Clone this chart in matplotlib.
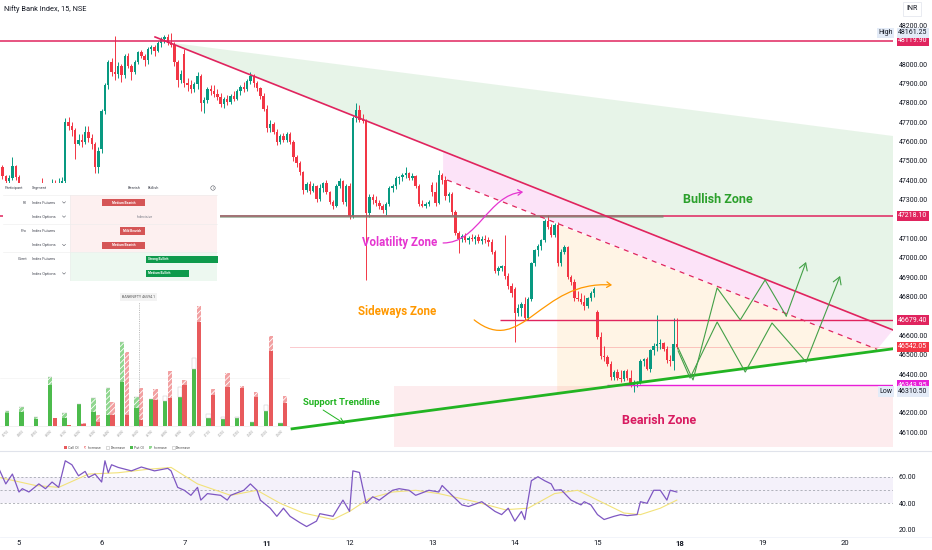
import matplotlib
matplotlib.use("Agg")
import matplotlib.pyplot as plt
from matplotlib.patches import Polygon, Rectangle, Circle, FancyArrowPatch, Patch
from matplotlib.path import Path
from matplotlib.lines import Line2D

plt.rcParams['font.family'] = ['Roboto', 'DejaVu Sans']
plt.rcParams['hatch.linewidth'] = 0.6

W, H = 932, 550

# ---------------- 15 min candles (first bar is 6 bars before the 5th) ----------------
first_bar = -6
opens = [
    47450, 47470, 47420, 47395, 47410, 47475,
    47415, 47350, 47320, 47360, 47340, 47300, 47330, 47370, 47350, 47365, 47340, 47380, 47370,
    47385, 47395, 47700, 47680, 47660, 47590, 47610, 47600, 47650, 47620, 47590, 47470,
    47560, 47760, 47890, 48010, 47960, 47950, 47990, 47945, 48040, 47990, 47960, 48010, 48060,
    48040, 48020, 48080, 48090, 48070, 48110, 48130, 48140, 48110, 48100, 48010, 47920,
    48050, 47900, 47890, 47870, 47895, 47940, 47800, 47815, 47870, 47860, 47845, 47830, 47795,
    47820, 47805, 47835, 47820, 47860, 47880, 47870, 47915, 47940, 47900, 47875, 47835,
    47770, 47670, 47690, 47650, 47600, 47630, 47610, 47640, 47600, 47520, 47490, 47445, 47350,
    47380, 47345, 47370, 47305, 47360, 47385, 47340, 47290, 47270, 47370, 47395, 47290,
    47370, 47215, 47722, 47765, 47712, 47705, 47232, 47315, 47300, 47285, 47270, 47245, 47280,
    47360, 47370, 47410, 47415, 47430, 47440, 47410, 47425, 47370, 47280, 47270, 47280,
    47375, 47340, 47285, 47430, 47400, 47320, 47330, 47235, 47130, 47095, 47115, 47090, 47105,
    47095, 47110, 47085, 47100, 47090, 47080, 47030, 46930, 46950, 46960, 46905, 46855,
    46840, 46716, 46740, 46760, 46690, 46790, 46975, 47040, 47060, 47090, 47190, 47160, 47120,
    47170, 46975, 47030, 47055, 46902, 46875, 46795, 46790, 46770, 46750, 46795, 46820,
    46720, 46590, 46495, 46490, 46455, 46385, 46410, 46380, 46375, 46415, 46380, 46345, 46350,
    46360, 46470, 46480, 46425, 46525, 46545, 46555, 46560, 46530, 46475, 46470, 46555,
]
highs = [
    47490, 47480, 47430, 47430, 47520, 47480,
    47430, 47370, 47380, 47375, 47350, 47345, 47380, 47413, 47380, 47370, 47405, 47400, 47410,
    47415, 47720, 47725, 47700, 47670, 47640, 47640, 47680, 47680, 47640, 47600, 47570,
    47770, 47900, 48020, 48030, 48145, 48010, 48000, 48050, 48055, 48000, 48020, 48070, 48075,
    48050, 48090, 48100, 48100, 48120, 48140, 48150, 48155, 48161.25, 48115, 48020, 47970,
    48080, 47930, 47920, 47910, 47960, 47950, 47830, 47880, 47890, 47890, 47870, 47850, 47830,
    47840, 47845, 47860, 47870, 47890, 47910, 47925, 47960, 47950, 47915, 47880, 47850,
    47790, 47710, 47700, 47665, 47640, 47645, 47650, 47650, 47610, 47530, 47500, 47450, 47390,
    47395, 47385, 47375, 47380, 47390, 47400, 47345, 47300, 47380, 47410, 47400, 47380,
    47385, 47730, 47800, 47790, 47740, 47715, 47330, 47330, 47320, 47300, 47280, 47290, 47370,
    47380, 47420, 47425, 47440, 47470, 47445, 47440, 47430, 47380, 47300, 47290, 47300,
    47390, 47390, 47454, 47440, 47420, 47340, 47340, 47245, 47140, 47125, 47130, 47115, 47125,
    47120, 47125, 47115, 47120, 47110, 47095, 47040, 46960, 46965, 47118, 46920, 46870,
    46850, 46760, 46770, 46800, 46800, 46980, 47045, 47070, 47100, 47200, 47222, 47175, 47180,
    47185, 47045, 47065, 47062, 46910, 46890, 46830, 46820, 46810, 46800, 46830, 46850,
    46730, 46615, 46545, 46500, 46470, 46420, 46425, 46420, 46420, 46425, 46420, 46370, 46365,
    46480, 46485, 46490, 46530, 46560, 46706, 46580, 46565, 46545, 46500, 46690, 46690,
]
lows = [
    47430, 47405, 47380, 47385, 47400, 47400,
    47330, 47290, 47300, 47320, 47270, 47290, 47320, 47330, 47340, 47320, 47330, 47350, 47360,
    47370, 47385, 47660, 47630, 47510, 47580, 47570, 47590, 47600, 47560, 47440, 47440,
    47540, 47740, 47870, 47940, 47920, 47930, 47910, 47930, 47980, 47920, 47950, 48000, 48030,
    47990, 48000, 48050, 48040, 48060, 48090, 48110, 48100, 48090, 47990, 47880, 47900,
    47880, 47860, 47850, 47855, 47870, 47760, 47750, 47800, 47840, 47830, 47815, 47780, 47775,
    47790, 47795, 47810, 47815, 47840, 47855, 47860, 47895, 47880, 47860, 47820, 47760,
    47650, 47650, 47640, 47580, 47590, 47600, 47600, 47590, 47500, 47470, 47430, 47330, 47340,
    47330, 47340, 47290, 47295, 47340, 47330, 47280, 47250, 47260, 47360, 47280, 47270,
    47200, 47205, 47700, 47700, 47695, 46886, 47210, 47280, 47270, 47250, 47230, 47220, 47270,
    47340, 47355, 47380, 47395, 47410, 47400, 47400, 47360, 47270, 47260, 47255, 47270,
    47320, 47270, 47280, 47380, 47300, 47290, 47220, 47120, 47025, 47080, 47080, 47070, 47085,
    47070, 47075, 47070, 47075, 47060, 47020, 46920, 46910, 46930, 46890, 46840, 46800,
    46566, 46700, 46700, 46680, 46680, 46780, 46960, 47010, 47040, 47080, 47150, 47110, 47110,
    46960, 46960, 47020, 46890, 46860, 46780, 46780, 46760, 46730, 46740, 46780, 46800,
    46580, 46480, 46470, 46440, 46370, 46370, 46370, 46360, 46365, 46370, 46335, 46310.5, 46335,
    46350, 46440, 46420, 46410, 46500, 46520, 46530, 46520, 46460, 46440, 46420, 46530,
]
closes = [
    47470, 47420, 47395, 47410, 47475, 47415,
    47350, 47320, 47360, 47340, 47300, 47330, 47370, 47350, 47365, 47340, 47380, 47370, 47385,
    47395, 47700, 47680, 47660, 47590, 47610, 47600, 47650, 47620, 47590, 47470, 47550,
    47760, 47890, 48010, 47960, 47950, 47990, 47945, 48040, 47990, 47960, 48010, 48060, 48040,
    48020, 48080, 48090, 48070, 48110, 48130, 48140, 48110, 48100, 48010, 47920, 47950,
    47900, 47890, 47870, 47895, 47940, 47800, 47815, 47870, 47860, 47845, 47830, 47795, 47820,
    47805, 47835, 47820, 47860, 47880, 47870, 47915, 47940, 47900, 47875, 47835, 47770,
    47670, 47690, 47650, 47600, 47630, 47610, 47640, 47600, 47520, 47490, 47445, 47350, 47380,
    47345, 47370, 47305, 47360, 47385, 47340, 47290, 47270, 47370, 47395, 47290, 47370,
    47215, 47722, 47765, 47712, 47705, 47232, 47315, 47300, 47285, 47270, 47245, 47280, 47360,
    47370, 47410, 47415, 47430, 47440, 47410, 47425, 47370, 47280, 47270, 47280, 47290,
    47340, 47285, 47430, 47400, 47320, 47330, 47235, 47130, 47095, 47115, 47090, 47105, 47095,
    47110, 47085, 47100, 47090, 47080, 47030, 46930, 46950, 46960, 46905, 46855, 46820,
    46716, 46740, 46760, 46690, 46790, 46975, 47040, 47060, 47090, 47190, 47160, 47120, 47170,
    46975, 47030, 47055, 46902, 46875, 46795, 46790, 46770, 46750, 46795, 46820, 46840,
    46590, 46495, 46490, 46455, 46385, 46410, 46380, 46375, 46415, 46380, 46345, 46350, 46360,
    46470, 46480, 46425, 46525, 46545, 46555, 46560, 46530, 46475, 46470, 46555, 46542.05,
]

day_ticks = [0, 25, 50, 75, 100, 125, 150, 175, 200, 225, 250]
day_labels = ['5', '6', '7', '11', '12', '13', '14', '15', '18', '19', '20']
bold_days = ['11', '18']

# price scale levels (ticks hidden under a tag are left out)
price_ticks = [46100, 46200, 46400, 46500, 46600, 46800, 46900, 47000, 47100,
               47300, 47400, 47500, 47600, 47700, 47800, 47900, 48000, 48200]
prev_high_level = 48119.90
resistance_level = 47218.10
range_top_level = 46679.40
last_price = 46542.05
support_level = 46343.95
session_high = 48161.25
session_low = 46310.50

# ---------------- RSI pane ----------------
rsi_bars = [-6, -4, -2, 0, 1, 3, 6, 8, 10, 12,
            14, 16, 18, 20, 21, 23, 25, 26, 27, 28,
            30, 34, 37, 41, 45, 46, 48, 50, 52, 54,
            55, 57, 61, 63, 64, 68, 70, 72, 73, 76,
            78, 80, 82, 85, 87, 90, 91, 95, 98, 100,
            101, 103, 105, 107, 109, 113, 115, 118, 120, 124,
            127, 128, 131, 134, 136, 140, 144, 146, 148, 150,
            152, 153, 155, 157, 159, 161, 162, 164, 167, 170,
            171, 173, 175, 177, 180, 182, 184, 187, 188, 190,
            192, 194, 196, 197, 199]
rsi_vals = [65.6, 54.6, 62, 48.5, 51, 48.5, 54.6, 51, 56, 52,
            72, 69, 60.7, 64, 59.5, 62, 56, 72, 63, 69,
            67, 64.4, 67.3, 64.4, 66.3, 64.4, 52, 49.8, 46, 52,
            42.4, 47.3, 46, 42.4, 46, 49.8, 54.6, 49.8, 42.4, 36.3,
            30.2, 36.3, 30.2, 25.4, 22.5, 26.6, 32.2, 30.2, 42.4, 33.9,
            64.4, 63.2, 40, 44.9, 42.4, 49.8, 51, 49.8, 46, 49.8,
            48.5, 53.4, 46, 38.8, 37.6, 41.2, 33.9, 31.5, 36.3, 26.6,
            33.9, 27.8, 57, 60, 57, 54.6, 49.8, 50.2, 42.4, 38.8,
            41.2, 38.8, 31.5, 27.8, 30.2, 31.5, 30.7, 31.5, 41.2, 40,
            49.8, 49.8, 42.4, 49.8, 48.5]
rsi_ma_bars = [-6, 5, 12, 21, 30, 39, 46, 54, 64, 72, 79, 86, 95, 100,
               106, 113, 120, 127, 138, 147, 154, 162, 169, 176, 183, 188, 194, 199]
rsi_ma_vals = [59.5, 53.4, 52, 62, 63, 65.6, 67, 54.6, 46, 49.8, 40, 32.7, 27.8, 33.9,
               43.7, 48.5, 49.8, 47.3, 41.2, 35.2, 36.3, 47.3, 49.8, 41.2, 32.7, 31.5, 36.3, 42.4]
rsi_ticks = [20, 40, 60]

# ---------------- option OI inset ----------------
strikes = [45700, 45800, 45900, 46000, 46100, 46200, 46300, 46400, 46500, 46600,
           46700, 46800, 46900, 47000, 47100, 47200, 47300, 47400, 47500, 47600]
put_oi = [3.8, 4.3, 2.0, 12.3, 2.5, 6.6, 4.3, 3.3, 13.3, 5.3,
          8.0, 7.6, 8.8, 17.1, 2.5, 2.0, 2.3, 1.3, 4.6, 0.8]
put_increase = [0.8, 1.3, 0.8, 2.3, 1.3, 0, 4.0, 8.0, 11.8, 3.3,
                0, 0, 0, 0, 0, 0, 0, 0, 0, 0]
put_decrease = [0, 0, 0, 0, 0, 0, 0, 0, 0, 0,
                0, 1.4, 2.8, 3.2, 1.1, 0.6, 0.5, 0, 1.7, 0]
call_oi = [0, 0, 0, 2.3, 0.3, 0.6, 1.3, 3.3, 3.3, 1.8,
           7.8, 8.3, 12.3, 31.3, 9.3, 11.8, 11.3, 8.8, 22.5, 6.8]
call_increase = [0, 0, 0, 0, 0, 0.4, 2.0, 4.0, 19.0, 9.5,
                 3.2, 8.2, 1.5, 4.7, 1.7, 4.0, 0.7, 1.3, 4.5, 2.2]
spot_label = 'BANKNIFTY 46594.1'
spot_strike_pos = 9

# ---------------- participant sentiment table ----------------
participants = ['FII', 'Pro', 'Client']
segments = ['Index Futures', 'Index Options', 'Index Futures', 'Index Options',
            'Index Futures', 'Index Options']
has_dropdown = [True, True, False, True, False, True]
sentiments = ['Medium Bearish', 'Indecisive', 'Mild Bearish', 'Medium Bearish',
              'Strong Bullish', 'Medium Bullish']
strength = [-3, 0, -1.75, -3, 5, 3]

UP = '#089981'
DOWN = '#f23645'
CRIMSON = '#e0245e'
MAGENTA = '#e81ed8'
GREEN_LINE = '#22b422'

fig = plt.figure(figsize=(W / 100, H / 100), dpi=100)


def px_axes(x0, y0, x1, y1):
    # axes placed by pixel box (top-left origin)
    return fig.add_axes([x0 / W, 1 - y1 / H, (x1 - x0) / W, (y1 - y0) / H])


XLIM = (-5.75, 264.4)


def price_tag(ax, price, text, fc, tc='white'):
    ax.text(1.0057, price, text, transform=ax.get_yaxis_transform(), ha='left', va='center',
            fontsize=5, color=tc, zorder=10, clip_on=False,
            bbox=dict(boxstyle='square,pad=0.22', fc=fc, ec='none'))


def draw_main():
    ax = px_axes(0, 0, 893, 450)
    ax.set_xlim(*XLIM)
    ax.set_ylim(46008.7, 48330.7)
    for s in ax.spines.values():
        s.set_visible(False)
    ax.tick_params(axis='x', bottom=False, labelbottom=False)
    ax.yaxis.tick_right()
    ax.set_yticks(price_ticks)
    ax.set_yticklabels([f'{p:.2f}' for p in price_ticks])
    ax.tick_params(axis='y', length=0, pad=4, labelsize=5, labelcolor='#131722')

    # zones
    ax.add_patch(Polygon([(46.6, 48109), (264.4, 47629), (264.4, 46628), (46.6, 48104)],
                         closed=True, fc='#4caf50', alpha=0.13, ec='none', zorder=1))
    ax.add_patch(Polygon([(128.3, 47552), (264.4, 46628), (259.6, 46528), (128.3, 47412)],
                         closed=True, fc='#e91ec8', alpha=0.12, ec='none', zorder=1))
    ax.add_patch(Polygon([(162.8, 47175), (259.6, 46528), (162.8, 46300)],
                         closed=True, fc='#ff9800', alpha=0.10, ec='none', zorder=1))
    ax.add_patch(Rectangle((113.5, 46025), 151, 315, fc=DOWN, alpha=0.09, ec='none', zorder=1))

    # candles
    idx = list(range(first_bar, first_bar + len(closes)))
    cols = [UP if c >= o else DOWN for o, c in zip(opens, closes)]
    bottoms = [min(o, c) for o, c in zip(opens, closes)]
    heights = [max(abs(c - o), 2.0) for o, c in zip(opens, closes)]
    ax.vlines(idx, lows, highs, colors=cols, lw=0.7, zorder=3)
    ax.bar(idx, heights, bottom=bottoms, width=0.72, color=cols, lw=0, zorder=3)

    # horizontal levels
    ax.axhline(prev_high_level, color=CRIMSON, lw=1.1, zorder=4)
    ax.axhline(resistance_level, color=CRIMSON, lw=1.1, zorder=4)
    ax.hlines(resistance_level, 57.8, 194.9, color='#6d8c6d', lw=2.0, alpha=0.6, zorder=4)
    ax.hlines(range_top_level, 145.5, XLIM[1], color=CRIMSON, lw=1.0, zorder=4)
    ax.hlines(support_level, 177.9, XLIM[1], color=MAGENTA, lw=1.0, zorder=4)
    ax.axhline(last_price, color=DOWN, lw=0.6, alpha=0.3, zorder=2)

    # trend lines
    ax.plot([41.15, 264.4], [48140, 46628], color=CRIMSON, lw=1.2, zorder=4)
    ax.plot([129.5, 259.6], [47402, 46528], color=CRIMSON, lw=0.9, ls=(0, (4, 4)), zorder=4)
    ax.plot([82.6, 264.4], [46118, 46531], color=GREEN_LINE, lw=2.0, zorder=4)

    # projected zigzags
    zz_style = dict(color='#43a047', lw=0.8, zorder=5)
    up_i = [199.4, 203.9, 211.2, 218.2, 225.7, 232.1, 238.1]
    up_p = [46535, 46370, 46845, 46680, 46886, 46700, 46979]
    lo_i = [199.4, 203.0, 211.2, 219.7, 227.8, 238.1, 248.4]
    lo_p = [46520, 46380, 46669, 46411, 46664, 46463, 46907]
    for xs, ys in ((up_i, up_p), (lo_i, lo_p)):
        ax.plot(xs[:-1], ys[:-1], **zz_style)
        ax.annotate('', xy=(xs[-1], ys[-1]), xytext=(xs[-2], ys[-2]),
                    arrowprops=dict(arrowstyle='->,head_length=0.5,head_width=0.3',
                                    color='#43a047', lw=0.8, shrinkA=0, shrinkB=0), zorder=5)

    # curved arrows
    vol = Path([(128.3, 47077), (138.9, 47077), (141.9, 47325), (152.5, 47340)],
               [Path.MOVETO, Path.CURVE4, Path.CURVE4, Path.CURVE4])
    ax.add_patch(FancyArrowPatch(path=vol, arrowstyle='->,head_length=3,head_width=2',
                                 color='#e535d0', lw=0.9, zorder=5))
    side = Path([(137.7, 46680), (152.2, 46484), (157.6, 46886), (179.4, 46860)],
                [Path.MOVETO, Path.CURVE4, Path.CURVE4, Path.CURVE4])
    ax.add_patch(FancyArrowPatch(path=side, arrowstyle='->,head_length=3,head_width=2',
                                 color='#ff9800', lw=0.9, zorder=5))
    ax.annotate('', xy=(98.6, 46143), xytext=(92.0, 46215),
                arrowprops=dict(arrowstyle='->,head_length=0.4,head_width=0.2',
                                color=GREEN_LINE, lw=0.7, shrinkA=0, shrinkB=0), zorder=5)

    # zone labels
    lab = dict(ha='center', va='center', fontweight='bold', zorder=6)
    ax.text(211.5, 47299, 'Bullish Zone', color='#2ca02c', fontsize=9, **lab)
    ax.text(115, 47077, 'Volatility Zone', color='#e535d0', fontsize=8.3, **lab)
    ax.text(114.4, 46721, 'Sideways Zone', color='#ff9800', fontsize=8.3, **lab)
    ax.text(97.4, 46256, 'Support Trendline', color=GREEN_LINE, fontsize=6.8, **lab)
    ax.text(193.6, 46163, 'Bearish Zone', color='#d81b60', fontsize=9, **lab)

    # price scale tags
    price_tag(ax, prev_high_level, f'{prev_high_level:.2f}', CRIMSON)
    price_tag(ax, resistance_level, f'{resistance_level:.2f}', CRIMSON)
    price_tag(ax, range_top_level, f'{range_top_level:.2f}', CRIMSON)
    price_tag(ax, last_price, f'{last_price:.2f}', DOWN)
    price_tag(ax, support_level, f'{support_level:.2f}', MAGENTA)
    price_tag(ax, session_high, f'{session_high:.2f}', '#e3ebf7', '#131722')
    price_tag(ax, session_low, f'{session_low:.2f}', '#e3ebf7', '#131722')
    for p, t in ((session_high, 'High'), (session_low, 'Low')):
        ax.text(0.9997, p, t, transform=ax.get_yaxis_transform(), ha='right', va='center',
                fontsize=5, color='#131722', zorder=10, clip_on=False,
                bbox=dict(boxstyle='square,pad=0.22', fc='#e3ebf7', ec='none'))
    return ax


def draw_rsi():
    r = px_axes(0, 452, 893, 536)
    r.set_xlim(*XLIM)
    r.set_ylim(15.4, 78.6)
    for s in r.spines.values():
        s.set_visible(False)
    r.axhspan(40, 60, color='#7e57c2', alpha=0.08, lw=0)
    for lvl in (60, 50, 40):
        r.axhline(lvl, color='#9598a1', lw=0.5, ls=(0, (3, 3)))
    r.plot(rsi_ma_bars, rsi_ma_vals, color='#f2e27a', lw=0.8)
    r.plot(rsi_bars, rsi_vals, color='#7e57c2', lw=0.9)
    r.yaxis.tick_right()
    r.set_yticks(rsi_ticks)
    r.set_yticklabels([f'{v:.2f}' for v in rsi_ticks])
    r.tick_params(axis='y', length=0, pad=4, labelsize=5, labelcolor='#131722')
    r.set_xticks(day_ticks)
    r.set_xticklabels(day_labels)
    r.tick_params(axis='x', length=0, pad=3, labelsize=5.5, labelcolor='#131722')
    for t in r.get_xticklabels():
        if t.get_text() in bold_days:
            t.set_fontweight('bold')


def draw_table():
    t = px_axes(3, 183, 220, 283)
    t.set_xlim(3, 220)
    t.set_ylim(283, 183)
    t.axis('off')
    t.add_patch(Rectangle((3, 183), 217, 100, fc='white', ec='none', zorder=0))
    small = dict(fontsize=2.8, color='#434651', va='center')
    t.text(5, 188, 'Participant', **small)
    t.text(32, 188, 'Segment', **small)
    t.text(141, 188, 'Bearish', ha='right', **small)
    t.text(148, 188, 'Bullish', ha='left', **small)
    t.add_patch(Circle((213, 188), 2.2, fill=False, ec='#434651', lw=0.35))
    t.text(213, 188.2, 'i', ha='center', fontsize=2.3, color='#434651', va='center')

    group_fc = ['#fdf0f0', '#fdf0f0', '#edf8f0']
    for g in range(3):
        t.add_patch(Rectangle((70, 195 + 28.5 * g), 147, 28.5, fc=group_fc[g], ec='none'))
        t.plot([3, 217], [195 + 28.5 * g, 195 + 28.5 * g], color='#ececec', lw=0.4)
    t.plot([70, 70], [195, 280], color='#ececec', lw=0.4)

    unit = 14.3
    for k in range(6):
        y = 202.5 + 14.2 * k
        if k % 2 == 0:
            t.text(27, y, participants[k // 2], ha='right', **small)
        t.text(32, y, segments[k], **small)
        if has_dropdown[k]:
            t.plot([62.5, 64, 65.5], [y - 0.8, y + 0.7, y - 0.8], color='#434651', lw=0.35)
        s = strength[k]
        if s < 0:
            t.add_patch(Rectangle((145 + s * unit, y - 3.6), -s * unit, 7.2, fc='#d55556', ec='none'))
            t.text(145 + s * unit / 2, y, sentiments[k], ha='center', va='center',
                   fontsize=2.3, color='white', fontweight='bold')
        elif s > 0:
            t.add_patch(Rectangle((146, y - 3.6), s * unit, 7.2, fc='#0e9a4c', ec='none'))
            t.text(148, y, sentiments[k], ha='left', va='center',
                   fontsize=2.3, color='white', fontweight='bold')
        else:
            t.text(145, y, sentiments[k], ha='center', va='center', fontsize=2.6, color='#787b86')


def draw_oi():
    o = px_axes(0, 290, 290, 450)
    o.set_xlim(-0.646, 19.5)
    o.set_ylim(-7.2, 40.8)
    o.set_facecolor('white')
    for s in o.spines.values():
        s.set_visible(False)
    o.set_xticks([])
    o.set_yticks([])
    o.axhline(14.4, color='#efefef', lw=0.4, zorder=0)
    o.axhline(0, color='#e6e6e6', lw=0.4, zorder=0)

    g = list(range(len(strikes)))
    gp = [v - 0.16 for v in g]
    gc = [v + 0.16 for v in g]
    green, red = '#4cbb4c', '#e85a5c'
    o.bar(gp, put_oi, width=0.3, color=green, lw=0, zorder=2)
    o.bar(gp, put_increase, bottom=put_oi, width=0.3, color='#8fd68f', edgecolor='white',
          hatch='//////', lw=0, zorder=2)
    tops = [a + b for a, b in zip(put_oi, put_increase)]
    o.bar(gp, put_decrease, bottom=tops, width=0.3, color='white', edgecolor='#c8c8c8',
          lw=0.35, zorder=2)
    o.bar(gc, call_oi, width=0.3, color=red, lw=0, zorder=2)
    o.bar(gc, call_increase, bottom=call_oi, width=0.3, color='#f2a0a1', edgecolor='white',
          hatch='//////', lw=0, zorder=2)

    for x, s in zip(g, strikes):
        o.text(x + 0.1, -0.9, str(s), rotation=45, ha='right', va='top', fontsize=2.2,
               color='#9a9a9a')
    o.plot([spot_strike_pos, spot_strike_pos], [0, 37.3], color='#8a8a8a', lw=0.4,
           ls=(0, (2, 2)), zorder=3)
    o.text(spot_strike_pos, 38.7, spot_label, ha='center', va='center', fontsize=2.6,
           color='#555555', bbox=dict(boxstyle='square,pad=0.5', fc='#f3f3f3', ec='none'))

    handles = [Patch(fc=red, ec='none'),
               Patch(fc='#f2a0a1', ec='white', hatch='//////', lw=0),
               Patch(fc='white', ec='#bbbbbb', lw=0.4),
               Patch(fc=green, ec='none'),
               Patch(fc='#8fd68f', ec='white', hatch='//////', lw=0),
               Patch(fc='white', ec='#bbbbbb', lw=0.4)]
    names = ['Call OI', 'Increase', 'Decrease', 'Put OI', 'Increase', 'Decrease']
    o.legend(handles, names, loc='lower center', bbox_to_anchor=(0.44, -0.02), ncol=6,
             fontsize=2.6, frameon=False, handlelength=0.7, handleheight=0.7,
             handletextpad=0.4, columnspacing=1.4, labelcolor='#555555')


ax = draw_main()
draw_rsi()
draw_table()
draw_oi()

# header, currency box and pane separators
fig.text(4 / W, 1 - 9 / H, 'Nifty Bank Index, 15, NSE', fontsize=5.3, color='#131722',
         va='center', ha='left')
fig.text(912 / W, 1 - 9 / H, 'INR', fontsize=5, color='#131722', va='center', ha='center',
         bbox=dict(boxstyle='square,pad=0.5', fc='white', ec='#e0e3eb', lw=0.5))
fig.add_artist(Line2D([0, 1], [1 - 450.5 / H] * 2, color='#e0e3eb', lw=0.8))
fig.add_artist(Line2D([0, 1], [1 - 536.5 / H] * 2, color='#f0f3fa', lw=0.6))

fig.savefig('out.png', dpi=100)
